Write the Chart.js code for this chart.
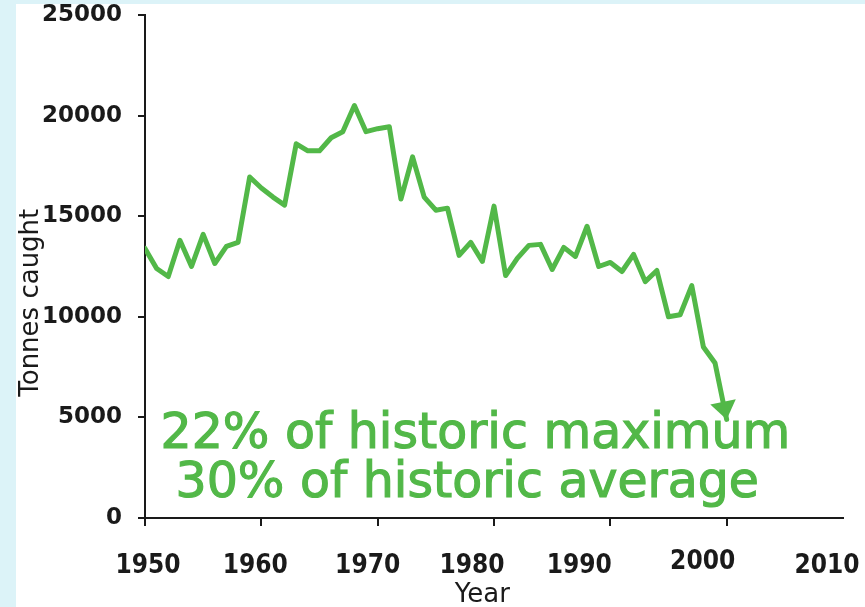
<!DOCTYPE html>
<html>
<head>
<meta charset="utf-8">
<script src="https://cdn.jsdelivr.net/npm/chart.js@4.4.1/dist/chart.umd.min.js"></script>
<style>
  html, body { margin: 0; padding: 0; background: #dcf3f8; width: 865px; height: 607px; overflow: hidden; }
  #paper { position: absolute; left: 16px; top: 4px; width: 849px; height: 603px; background: #fff; }
  #chart { position: absolute; left: 0; top: 0; }
</style>
</head>
<body>
<div id="paper"></div>
<canvas id="chart" width="865" height="607"></canvas>
<script>
// Catch by year, tonnes
const years = [
    1950, 1951, 1952, 1953, 1954, 1955, 1956, 1957, 1958, 1959,
    1960, 1961, 1962, 1963, 1964, 1965, 1966, 1967, 1968, 1969,
    1970, 1971, 1972, 1973, 1974, 1975, 1976, 1977, 1978, 1979,
    1980, 1981, 1982, 1983, 1984, 1985, 1986, 1987, 1988, 1989,
    1990, 1991, 1992, 1993, 1994, 1995, 1996, 1997, 1998, 1999,
    2000
];
const tonnes = [
    13400, 12400, 12000, 13800, 12500, 14100, 12650, 13500, 13700, 16950,
    16400, 15950, 15550, 18600, 18250, 18250, 18900, 19200, 20500, 19200,
    19350, 19450, 15850, 17950, 15950, 15300, 15400, 13050, 13700, 12750,
    15500, 12050, 12900, 13550, 13600, 12350, 13450, 13000, 14500, 12500,
    12700, 12250, 13100, 11750, 12300, 10000, 10100, 11550, 8500, 7700,
    4900
];

const xTicks = [1950, 1960, 1970, 1980, 1990, 2000, 2010];
const yTicks = [0, 5000, 10000, 15000, 20000, 25000];

const noteLines = ['22% of historic maximum', '30% of historic average'];

const green = '#52b848';
const ink = '#1a1a1a';

// the year labels in the original sit a little off their ticks
const xLabelShift = [3, -6, -10, -22, -31, -24, -16];
const xLabelLift = [0, 0, 0, 0, 0, 4, 0];

// arrow head at the end of the series
const arrowHead = {
    id: 'arrowHead',
    afterDatasetsDraw(chart) {
        const pts = chart.getDatasetMeta(0).data;
        const tip = pts[pts.length - 1];
        const prev = pts[pts.length - 2];
        const ang = Math.atan2(tip.y - prev.y, tip.x - prev.x);
        const len = 18, half = 13;
        const bx = tip.x - len * Math.cos(ang);
        const by = tip.y - len * Math.sin(ang);
        const ctx = chart.ctx;
        ctx.save();
        ctx.fillStyle = green;
        ctx.beginPath();
        ctx.moveTo(tip.x, tip.y);
        ctx.lineTo(bx + half * Math.sin(ang), by - half * Math.cos(ang));
        ctx.lineTo(bx - half * Math.sin(ang), by + half * Math.cos(ang));
        ctx.closePath();
        ctx.fill();
        ctx.restore();
    }
};

// note text, year labels and the axis titles
const labels = {
    id: 'labels',
    afterDraw(chart) {
        const ctx = chart.ctx;
        const x = chart.scales.x, y = chart.scales.y;
        ctx.save();
        ctx.fillStyle = green;
        ctx.strokeStyle = green;
        ctx.lineWidth = 1.2;
        ctx.textAlign = 'center';
        ctx.textBaseline = 'alphabetic';
        ctx.font = '49px "DejaVu Sans"';
        const l1 = [x.getPixelForValue(1978.4), y.getPixelForValue(3500)];
        const l2 = [x.getPixelForValue(1977.7), y.getPixelForValue(1050)];
        ctx.fillText(noteLines[0], l1[0], l1[1]);
        ctx.strokeText(noteLines[0], l1[0], l1[1]);
        ctx.fillText(noteLines[1], l2[0], l2[1]);
        ctx.strokeText(noteLines[1], l2[0], l2[1]);

        ctx.fillStyle = ink;
        ctx.font = 'bold 26px "DejaVu Sans Condensed", "DejaVu Sans"';
        xTicks.forEach((v, i) => {
            ctx.fillText(String(v), x.getPixelForValue(v) + xLabelShift[i], x.top + 55 - xLabelLift[i]);
        });

        ctx.font = '26px "DejaVu Sans"';
        ctx.fillText('Year', x.getPixelForValue(1979.0), 602);
        ctx.translate(38, y.getPixelForValue(10700));
        ctx.rotate(-Math.PI / 2);
        ctx.fillText('Tonnes caught', 0, 0);
        ctx.restore();
    }
};

const ctx = document.getElementById('chart').getContext('2d');
new Chart(ctx, {
    type: 'line',
    data: {
        datasets: [{
            data: years.map((yr, i) => ({ x: yr, y: tonnes[i] })),
            borderColor: green,
            borderWidth: 5,
            pointRadius: 0,
            tension: 0,
            fill: false,
            borderJoinStyle: 'round',
            borderCapStyle: 'round'
        }]
    },
    options: {
        responsive: false,
        animation: false,
        layout: { padding: { top: 15, right: 22, left: 0, bottom: 0 } },
        plugins: {
            legend: { display: false },
            tooltip: { enabled: false }
        },
        scales: {
            x: {
                type: 'linear',
                min: 1950,
                max: 2010,
                afterBuildTicks: s => { s.ticks = xTicks.map(v => ({ value: v })); },
                afterFit: s => { s.height = 89; s.paddingLeft = 0; s.paddingRight = 0; },
                border: { display: true, color: ink, width: 2 },
                grid: {
                    display: true, drawOnChartArea: false, drawTicks: true, tickLength: 8, lineWidth: 2,
                    tickColor: c => (c.tick && c.tick.value === 2010 ? 'rgba(0,0,0,0)' : ink)
                },
                ticks: { display: false }
            },
            y: {
                min: 0,
                max: 25000,
                afterBuildTicks: s => { s.ticks = yTicks.map(v => ({ value: v })); },
                afterFit: s => { s.width = 145; s.paddingTop = 0; s.paddingBottom = 0; },
                border: { display: true, color: ink, width: 2 },
                grid: { display: true, drawOnChartArea: false, drawTicks: true, tickLength: 7, color: ink, lineWidth: 2 },
                ticks: {
                    color: ink,
                    padding: 16,
                    callback: v => String(v),
                    font: { family: '"DejaVu Sans"', size: 23, weight: 'bold' }
                }
            }
        }
    },
    plugins: [arrowHead, labels]
});
</script>
</body>
</html>
